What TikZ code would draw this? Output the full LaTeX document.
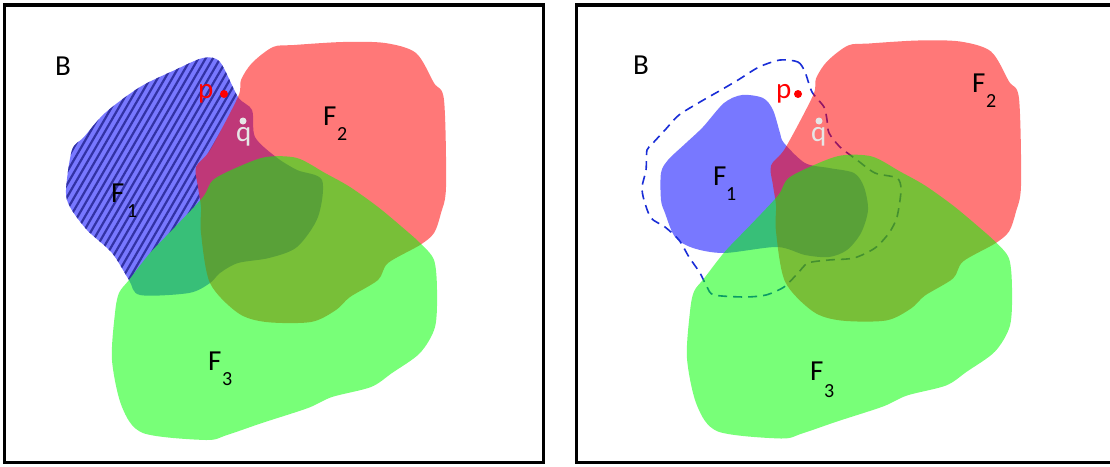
\documentclass[tikz,border=0pt]{standalone}
\usepackage{fontspec}
\setmainfont{Carlito}
\begin{document}
\begin{tikzpicture}[x=1pt,y=-1pt,
  region/.style={fill opacity=0.53},
  frameline/.style={line width=3.5pt, line join=miter},
  hatchline/.style={line width=2.2pt, draw={rgb,255:red,50;green,50;blue,165}},
  outline/.style={draw={rgb,255:red,25;green,45;blue,215}, line width=1.6pt, dash pattern=on 9pt off 6pt},
  lbl/.style={inner sep=0pt, anchor=base west, font=\fontsize{29}{30}\selectfont},
  sub/.style={inner sep=0pt, anchor=base west, font=\fontsize{20}{22}\selectfont},
  ptdot/.style={circle, inner sep=0pt, minimum size=8pt},
  shapeFoneL/.style={insert path={plot[smooth cycle, tension=0.5] coordinates {
    (203,58) (220,62) (238,97) (252,110) (255,137) (276,157) (297,170) (322,180)
    (318,217) (297,247) (269,258) (238,263) (220,273) (210,283) (189,293) (140,295)
    (129,280) (112,253) (87,230) (70,207) (66,190) (72,150) (84,137) (105,113)
    (140,87) (175,70)}}},
  shapeFoneR/.style={insert path={plot[smooth cycle, tension=0.5] coordinates {
    (742,95) (763,98) (773,110) (780,133) (784,143) (805,163) (829,168) (854,173)
    (864,187) (868,210) (861,233) (847,250) (829,257) (805,255) (777,247) (724,253)
    (693,248) (675,237) (665,213) (661,200) (661,173) (668,160) (686,143) (703,127)
    (724,103)}}},
  shapeFtwo/.style={insert path={plot[smooth cycle, tension=0.5] coordinates {
    (241,80) (252,63) (273,47) (294,45) (343,42) (385,43) (416,53) (434,83)
    (444,100) (446,187) (441,213) (434,233) (420,245) (388,263) (378,280) (350,297)
    (336,310) (311,322) (266,322) (238,313) (210,283) (201,233) (201,207) (198,187)
    (196,167) (210,150) (238,97)}}},
  shapeFthree/.style={insert path={plot[smooth cycle, tension=0.5] coordinates {
    (115,313) (112,360) (122,407) (143,433) (206,440) (227,435) (262,423) (308,408)
    (332,397) (371,387) (392,373) (420,353) (435,327) (437,290) (434,260) (420,243)
    (402,227) (378,207) (350,187) (325,173) (297,158) (266,157) (238,167) (213,180)
    (203,197) (175,227) (150,253) (129,280) (119,293)}}},
  dashedring/.style={insert path={plot[smooth cycle, tension=0.45] coordinates {
    (780,60) (798,62) (805,72) (812,92) (824,107) (827,120) (829,133) (840,147)
    (857,160) (875,173) (897,178) (901,190) (897,217) (889,233) (875,248) (854,258)
    (829,260) (808,263) (798,273) (784,287) (766,295) (745,297) (714,295) (707,287)
    (700,273) (689,257) (679,240) (665,227) (651,218) (644,200) (642,187) (646,170)
    (647,150) (653,143) (665,130) (679,115) (700,102) (721,90) (738,80) (759,67)}}}
]
\useasboundingbox (0,0) rectangle (1110,466);
\fill[white] (0,0) rectangle (1110,466);

% ---------------- left panel ----------------
\fill[blue, region, shapeFoneL];
% stripes on the part of F1 not covered by F2 or F3
\begin{scope}
  \clip[shapeFoneL];
  \begin{scope}[even odd rule]
    \clip[shapeFtwo] (0,0) rectangle (560,466);
    \begin{scope}[even odd rule]
      \clip[shapeFthree] (0,0) rectangle (560,466);
      \foreach \k in {0,...,80}
        \draw[hatchline] ({-150+7.3*\k},320) -- ++(185,-320);
    \end{scope}
  \end{scope}
\end{scope}
\fill[red, region, shapeFtwo];
\fill[green, region, shapeFthree];

\draw[frameline] (4.3,5) rectangle (543.5,462.5);

\node[lbl] (bL) at (55,75) {B};
\node[lbl, text=red] (pL) at (198,98) {p};
\node[ptdot, fill=red] (pdotL) at (224,94) {};
\node[ptdot, fill={rgb,255:red,230;green,230;blue,230}, minimum size=7pt] (qdotL) at (243,121) {};
\node[lbl, text={rgb,255:red,230;green,230;blue,230}] (qL) at (236,141) {q};
\node[lbl] (f1L) at (111,202) {F};
\node[sub] (s1L) at (127,217) {1};
\node[lbl] (f2L) at (323,125) {F};
\node[sub] (s2L) at (337,140) {2};
\node[lbl] (f3L) at (208,370) {F};
\node[sub] (s3L) at (222,385) {3};

% ---------------- right panel ----------------
\fill[blue, region, shapeFoneR];
\draw[outline, dashedring];
\begin{scope}[shift={(575,-1.5)}]
  \fill[red, region, shapeFtwo];
  \fill[green, region, shapeFthree];
\end{scope}

\draw[frameline] (1115,5) -- (576.5,5) -- (576.5,462.5) -- (1115,462.5);

\node[lbl] (bR) at (633,74) {B};
\node[lbl, text=red] (pR) at (776,98) {p};
\node[ptdot, fill=red] (pdotR) at (798,94) {};
\node[ptdot, fill={rgb,255:red,230;green,230;blue,230}, minimum size=7pt] (qdotR) at (819,121) {};
\node[lbl, text={rgb,255:red,230;green,230;blue,230}] (qR) at (811,141) {q};
\node[lbl] (f1R) at (713,185) {F};
\node[sub] (s1R) at (726,200) {1};
\node[lbl] (f2R) at (972,92) {F};
\node[sub] (s2R) at (986,107) {2};
\node[lbl] (f3R) at (810,380) {F};
\node[sub] (s3R) at (824,397) {3};
\end{tikzpicture}
\end{document}
